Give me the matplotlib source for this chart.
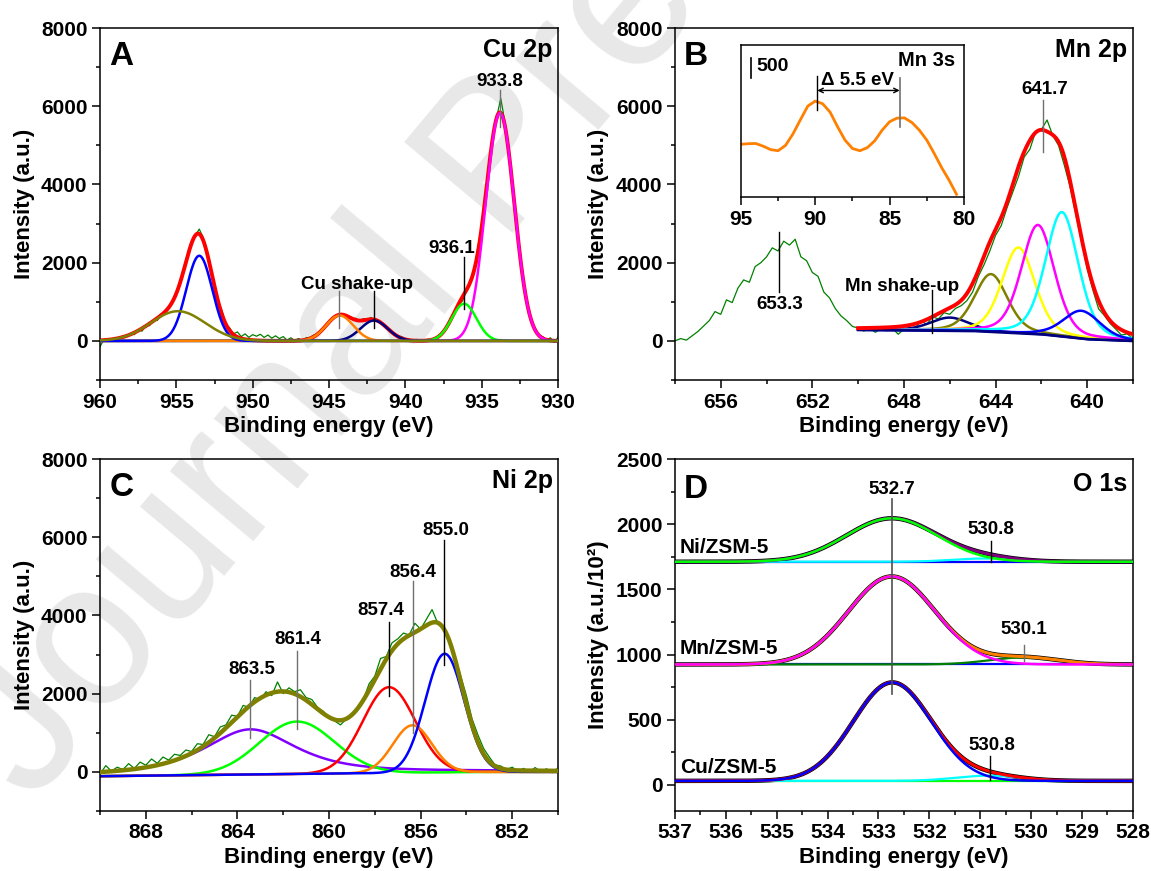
import numpy as np
import matplotlib
matplotlib.use('Agg')
import matplotlib.pyplot as plt
from matplotlib.ticker import MultipleLocator

plt.rcParams['font.family'] = ['Liberation Sans', 'DejaVu Sans']
plt.rcParams['font.weight'] = 'bold'
plt.rcParams['axes.labelweight'] = 'bold'
plt.rcParams['axes.linewidth'] = 1.1

# ---------------- A: Cu 2p ----------------
cu_range = (960, 930)
cu_raw = [
    -150, 40, 60, 20, 90, 50, 130, 100,
    190, 160, 280, 250, 400, 390, 540, 520,
    680, 720, 860, 980, 1240, 1450, 1860, 2150,
    2560, 2700, 2860, 2650, 2310, 1900, 1450, 1020,
    760, 420, 330, 180, 230, 110, 180, 90,
    160, 120, 170, 90, 150, 70, 130, 60,
    110, 20, 80, 10, 60, 20, 80, 90,
    150, 180, 300, 360, 500, 560, 640, 690,
    650, 630, 560, 580, 510, 570, 540, 600,
    530, 520, 430, 360, 280, 160, 130, 110,
    60, 30, -20, 40, -10, 30, 40, 20,
    90, 160, 260, 420, 600, 730, 950, 1020,
    1320, 1520, 1780, 2400, 2900, 3800, 4500, 5300,
    5750, 6200, 5650, 5050, 4050, 3150, 2250, 1500,
    950, 520, 320, 140, 110, 20, 80, -40,
    90,
]
cu_pos = [933.8, 936.15, 942.05, 944.3, 953.5, 954.9]
cu_height = [5830, 950, 520, 650, 2177, 760]
cu_fwhm = [2.2, 1.9, 2.1, 2.1, 2.0, 4.2]
cu_colors = ['#ff00ff', '#00ff00', '#000080', '#ff8000', '#0000ff', '#808000']

# ---------------- B: Mn 2p ----------------
mn_range = (658, 638)
mn_raw = [
    0, 60, 20, 130, 240, 380, 520, 750,
    680, 1050, 980, 1350, 1560, 1500, 1900, 2000,
    2150, 2380, 2300, 2550, 2450, 2600, 2150, 2050,
    1750, 1650, 1250, 1100, 830, 640, 520, 370,
    330, 250, 330, 220, 310, 260, 320, 170,
    300, 340, 330, 520, 420, 620, 560, 720,
    680, 830, 900, 1030, 1250, 1650, 1950, 2300,
    2700, 2950, 3400, 3800, 4200, 4700, 4900, 5350,
    5400, 5650, 5250, 5000, 4500, 3950, 3250, 2550,
    1850, 1300, 820, 650, 450, 300, 150, 180,
    60,
]
mn_fit_range = (650, 638)
mn_pos = [646.0, 644.2, 643.0, 642.15, 641.1, 640.24]
mn_height = [335, 1475, 2190, 2790, 3180, 710]
mn_fwhm = [2.0, 1.7, 1.7, 1.7, 1.7, 1.9]
mn_eta = 0.3
mn_colors = ['#000080', '#808000', '#ffff00', '#ff00ff', '#00ffff', '#0000ff']
mn_bg_e = [638, 640, 642, 645, 650]
mn_bg_v = [0, 45, 171, 256, 282]

# Mn 3s inset
mn3s_range = (95.0, 80.5)
mn3s_v = [1303, 1317, 1322, 1256, 1172, 1144, 1275, 1556, 1903, 2241,
          2363, 2297, 2091, 1734, 1406, 1200, 1144, 1219, 1388, 1650,
          1856, 1945, 1950, 1838, 1650, 1406, 1078, 731, 422, 75]

# ---------------- C: Ni 2p ----------------
ni_range = (870, 850)
ni_raw = [
    -60, 160, 20, 120, 60, 210, 90, 250,
    170, 330, 220, 380, 300, 450, 420, 560,
    520, 720, 700, 950, 900, 1150, 1200, 1450,
    1420, 1700, 1650, 1900, 1850, 2050, 1950, 2300,
    2000, 2150, 2050, 2100, 1900, 1850, 1650, 1550,
    1380, 1300, 1200, 1350, 1450, 1650, 1850, 2250,
    2450, 2900, 2950, 3300, 3400, 3550, 3500, 3800,
    3650, 3900, 4150, 3800, 3700, 3350, 2950, 2450,
    1950, 1350, 950, 600, 380, 180, 150, 60,
    120, 20, 90, 0, 110, 10, 80, -20,
    100,
]
ni_pos = [863.44, 861.4, 857.38, 856.36, 854.95]
ni_height = [1155, 1341, 2194, 1213, 3033]
ni_fwhm = [4.8, 3.85, 2.7, 2.0, 2.0]
ni_eta = [0.75, 0.0, 0.0, 0.0, 0.0]
ni_colors = ['#8000ff', '#00ff00', '#ff0000', '#ff8000', '#0000ff']
ni_bg_e = [850, 853, 870]
ni_bg_v = [0, 0, -110]

# ---------------- D: O 1s ----------------
o_samples = ['Cu/ZSM-5', 'Mn/ZSM-5', 'Ni/ZSM-5']
o_base = [31, 924, 1712]
o_main_pos = [532.73, 532.74, 532.74]
o_main_h = [755, 675, 333]
o_main_w = [1.8, 2.0, 2.1]
o_side_pos = [530.85, 530.14, 530.9]
o_side_h = [40, 54, 25]
o_side_w = [1.5, 1.6, 1.5]
o_side_label = ['530.8', '530.1', '530.8']
o_main_c = ['#0000ff', '#ff00ff', '#00ff00']
o_side_c = ['#00ffff', '#008000', '#00ffff']
o_env_c = ['#ff0000', '#ff8000', '#800080']
o_flat_c = ['#00ff00', '#0000ff', '#0000ff']

TICK = 15
LABEL = 16
NOTE = 13.5


def peak(x, c, h, w, eta=0.0):
    g = np.exp(-4 * np.log(2) * (x - c) ** 2 / w ** 2)
    lor = 1 / (1 + 4 * (x - c) ** 2 / w ** 2)
    return h * ((1 - eta) * g + eta * lor)


def style(ax, xlim, ylim, xmaj, xmin, ymaj, ymin, ylabel='Intensity (a.u.)'):
    ax.set_facecolor('none')
    ax.set_xlim(*xlim)
    ax.set_ylim(*ylim)
    ax.xaxis.set_major_locator(MultipleLocator(xmaj))
    ax.xaxis.set_minor_locator(MultipleLocator(xmin))
    ax.yaxis.set_major_locator(MultipleLocator(ymaj))
    ax.yaxis.set_minor_locator(MultipleLocator(ymin))
    ax.tick_params(which='both', direction='out', top=False, right=False,
                   labelsize=TICK, width=1.1, pad=3.5)
    ax.tick_params(which='major', length=5.5)
    ax.tick_params(which='minor', length=3)
    ax.set_xlabel('Binding energy (eV)', fontsize=LABEL)
    ax.set_ylabel(ylabel, fontsize=LABEL)
    ax.xaxis.set_label_coords(0.5, -0.102)
    ax.yaxis.set_label_coords(-0.143, 0.5)


def mark(ax, x, y0, y1, label, tx, ty, color='k'):
    ax.plot([x, x], [y0, y1], color=color, lw=1, zorder=5)
    ax.text(tx, ty, label, ha='center', va='center', fontsize=NOTE, zorder=6)


def corner(ax, letter, title, ly, ty):
    ax.text(0.02, ly, letter, transform=ax.transAxes, fontsize=24,
            ha='left', va='top')
    ax.text(0.988, ty, title, transform=ax.transAxes, fontsize=18,
            ha='right', va='top')


fig = plt.figure(figsize=(11.51, 8.71), dpi=100)
fig.text(0.028, 0.075, 'Journal Pre-proof', rotation=50, rotation_mode='anchor',
         fontsize=148, fontweight='normal', color='#e8e8e8',
         ha='left', va='baseline', zorder=-1)

grey = '#707070'

# ---- A ----
ax = fig.add_axes([0.0869, 0.5637, 0.3979, 0.4041])
e = np.linspace(cu_range[0], cu_range[1], len(cu_raw))
ax.plot(e, cu_raw, color='#008000', lw=0.9, zorder=1)
x = np.linspace(cu_range[0], cu_range[1], 800)
env = np.zeros_like(x)
for c, h, w, col in zip(cu_pos, cu_height, cu_fwhm, cu_colors):
    y = peak(x, c, h, w)
    env += y
    ax.plot(x, y, color=col, lw=1.8, zorder=3)
ax.plot(x, env, color='#ff0000', lw=2.8, zorder=2)
mark(ax, 933.8, 5481, 6404, '933.8', 933.8, 6640, grey)
mark(ax, 936.18, 811, 2135, '936.1', 936.98, 2370)
mark(ax, 944.37, 342, 1281, '', 944.37, 0, grey)
mark(ax, 942.07, 342, 1264, 'Cu shake-up', 943.16, 1450)
style(ax, cu_range, (-1000, 8000), 5, 2.5, 2000, 1000)
corner(ax, 'A', 'Cu 2p', 0.962, 0.972)

# ---- B ----
ax = fig.add_axes([0.5864, 0.5637, 0.3979, 0.4041])
e = np.linspace(mn_range[0], mn_range[1], len(mn_raw))
ax.plot(e, mn_raw, color='#008000', lw=0.9, zorder=1)
x = np.linspace(mn_fit_range[0], mn_fit_range[1], 600)
bg = np.interp(x, mn_bg_e, mn_bg_v)
env = bg.copy()
for c, h, w, col in zip(mn_pos, mn_height, mn_fwhm, mn_colors):
    y = peak(x, c, h, w, mn_eta)
    env += y
    ax.plot(x, bg + y, color=col, lw=1.8, zorder=2)
ax.plot(x, bg, color='#000080', lw=2, zorder=2)
ax.plot(x, env, color='#ff0000', lw=2.8, zorder=3)
mark(ax, 641.94, 4824, 6164, '641.7', 641.86, 6420, grey)
mark(ax, 653.45, 1238, 2775, '653.3', 653.41, 920)
mark(ax, 646.77, 213, 1298, 'Mn shake-up', 648.1, 1400)
style(ax, mn_range, (-1000, 8000), 4, 2, 2000, 1000)
corner(ax, 'B', 'Mn 2p', 0.962, 0.972)

ins = ax.inset_axes([0.144, 0.519, 0.487, 0.434])
ins.plot(np.linspace(mn3s_range[0], mn3s_range[1], len(mn3s_v)), mn3s_v,
         color='#ff8000', lw=2)
ins.set_xlim(95, 80)
ins.set_ylim(0, 3750)
ins.set_yticks([])
ins.xaxis.set_major_locator(MultipleLocator(5))
ins.xaxis.set_minor_locator(MultipleLocator(2.5))
ins.tick_params(which='both', direction='out', labelsize=TICK, width=1.1, pad=3.5)
ins.tick_params(which='major', length=5.5)
ins.tick_params(which='minor', length=3)
ins.plot([94.3, 94.3], [2927, 3427], color='k', lw=1.2)
ins.text(93.93, 3223, '500', fontsize=14, ha='left', va='center')
ins.plot([89.86, 89.86], [2132, 2968], color='k', lw=1)
ins.plot([84.32, 84.32], [1722, 2936], color=grey, lw=1.2)
ins.annotate('', xy=(84.32, 2624), xytext=(89.86, 2624),
             arrowprops=dict(arrowstyle='<->', color='k', lw=1,
                             shrinkA=0, shrinkB=0, mutation_scale=8))
ins.text(87.19, 2880, '\u0394 5.5 eV', fontsize=13.5, ha='center', va='center')
ins.text(80.6, 3370, 'Mn 3s', fontsize=14.5, ha='right', va='center')

# ---- C ----
ax = fig.add_axes([0.0869, 0.0689, 0.3979, 0.4041])
e = np.linspace(ni_range[0], ni_range[1], len(ni_raw))
ax.plot(e, ni_raw, color='#008000', lw=0.9, zorder=1)
x = np.linspace(ni_range[0], ni_range[1], 800)
bg = np.interp(x, ni_bg_e, ni_bg_v)
env = bg.copy()
for c, h, w, eta, col in zip(ni_pos, ni_height, ni_fwhm, ni_eta, ni_colors):
    y = peak(x, c, h, w, eta)
    env += y
    ax.plot(x, bg + y, color=col, lw=1.8, zorder=2)
ax.plot(x, env, color='#808000', lw=3.2, zorder=3)
mark(ax, 855.0, 2743, 5938, '855.0', 854.92, 6170)
mark(ax, 856.33, 997, 4873, '856.4', 856.33, 5090, grey)
mark(ax, 857.37, 1934, 3825, '857.4', 857.72, 4125)
mark(ax, 861.41, 1099, 3101, '861.4', 861.36, 3385, grey)
mark(ax, 863.44, 869, 2343, '863.5', 863.38, 2620, grey)
style(ax, ni_range, (-1000, 8000), 4, 2, 2000, 1000)
corner(ax, 'C', 'Ni 2p', 0.962, 0.972)

# ---- D ----
ax = fig.add_axes([0.5864, 0.0689, 0.3979, 0.4041])
x = np.linspace(537, 528, 600)
side_tx = [530.77, 530.14, 530.79]
side_ty = [300, 1190, 1958]
side_lx = [530.81, 530.14, 530.79]
side_y0 = [38, 947, 1707]
side_y1 = [218, 1075, 1873]
side_col = ['k', grey, 'k']
name_y = [133, 1044, 1825]
for i in range(3):
    base = o_base[i]
    main = peak(x, o_main_pos[i], o_main_h[i], o_main_w[i])
    side = peak(x, o_side_pos[i], o_side_h[i], o_side_w[i])
    env = base + main + side
    ax.plot(x, env, color='k', lw=3.2, zorder=1)
    ax.plot(x, np.full_like(x, base), color=o_flat_c[i], lw=1.6, zorder=2)
    ax.plot(x, base + side, color=o_side_c[i], lw=1.6, zorder=2)
    ax.plot(x, env, color=o_env_c[i], lw=2.2, zorder=2)
    ax.plot(x, base + main, color=o_main_c[i], lw=1.8, zorder=3)
    mark(ax, side_lx[i], side_y0[i], side_y1[i], o_side_label[i],
         side_tx[i], side_ty[i], side_col[i])
    ax.text(536.9, name_y[i], o_samples[i], fontsize=15, ha='left', va='center')
ax.plot([532.73, 532.73], [699, 2196], color='#505050', lw=1.2, zorder=5)
ax.text(532.73, 2265, '532.7', fontsize=NOTE, ha='center', va='center')
style(ax, (537, 528), (-200, 2500), 1, 0.5, 500, 250,
      ylabel='Intensity (a.u./10\u00b2)')
corner(ax, 'D', 'O 1s', 0.958, 0.962)

fig.savefig('out.png', dpi=100)
